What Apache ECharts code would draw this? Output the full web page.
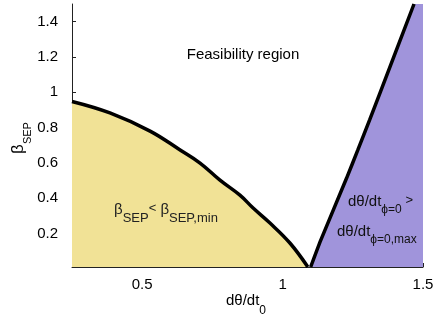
<!DOCTYPE html>
<html><head><meta charset="utf-8">
<script src="https://cdn.jsdelivr.net/npm/echarts@6/dist/echarts.min.js"></script>
<style>html,body{margin:0;padding:0;background:#fff}#c{width:435px;height:325px}</style>
</head><body><div id="c"></div>
<script>
// axis ranges and tick labels
const xRange = [0.25, 1.5];
const yRange = [0.01, 1.5];
const xTicks = [0.5, 1, 1.5];
const yTicks = [0.2, 0.4, 0.6, 0.8, 1, 1.2, 1.4];

// lower boundary (beta_SEP,min) curve
const curveX = [0.25, 0.385, 0.528, 0.635, 0.706, 0.777, 0.848, 0.895, 0.955, 1.026, 1.09];
const curveY = [0.948, 0.883, 0.780, 0.673, 0.599, 0.502, 0.417, 0.344, 0.259, 0.146, 0.01];

// right boundary (dtheta/dt max) line
const boundX = [1.1, 1.136, 1.228, 1.268, 1.31, 1.347, 1.468];
const boundY = [0.01, 0.162, 0.514, 0.673, 0.843, 0.996, 1.5];
const regionEdgeX = [1.5];
const regionEdgeY = [1.5];

const zip = (a, b) => a.map((v, i) => [v, b[i]]);
const FONT = 'Liberation Sans, Arial, sans-serif';

function subRich(fill, mainSize, subSize, pad) {
  return {
    m: {fontSize: mainSize, lineHeight: 18, verticalAlign: 'top', fontFamily: FONT, color: fill, fill: fill},
    u: {fontSize: 13, lineHeight: 14, verticalAlign: 'top', fontFamily: FONT, color: fill, fill: fill},
    s: {fontSize: subSize, lineHeight: 14, verticalAlign: 'top', padding: [pad, 0, 0, 0], fontFamily: FONT, color: fill, fill: fill}
  };
}

const chart = echarts.init(document.getElementById('c'), null, {renderer: 'canvas'});
const axisCommon = {
  axisLine: {show: true, onZero: false, lineStyle: {color: '#222', width: 1}},
  axisTick: {show: true, inside: true, length: 4, lineStyle: {color: '#222'}},
  axisLabel: {color: '#000', fontSize: 15, fontFamily: FONT},
  splitLine: {show: false}
};
chart.setOption({
  animation: false,
  grid: {left: 72, right: 12, top: 4, bottom: 58, containLabel: false, outerBoundsMode: 'none'},
  xAxis: Object.assign({}, axisCommon, {
    type: 'value', min: xRange[0], max: xRange[1],
    axisTick: Object.assign({}, axisCommon.axisTick, {customValues: xTicks}),
    axisLabel: Object.assign({}, axisCommon.axisLabel, {customValues: xTicks, margin: 10,
      formatter: v => String(+v.toFixed(2))})
  }),
  yAxis: Object.assign({}, axisCommon, {
    type: 'value', min: yRange[0], max: yRange[1],
    axisTick: Object.assign({}, axisCommon.axisTick, {customValues: yTicks}),
    axisLabel: Object.assign({}, axisCommon.axisLabel, {customValues: yTicks, margin: 14,
      formatter: v => String(+v.toFixed(2))})
  }),
  series: [
    {
      type: 'line', data: zip(curveX, curveY), symbol: 'none', z: 2, smooth: 0.4,
      lineStyle: {color: '#000', width: 3.5},
      areaStyle: {color: '#F1E296', opacity: 1, origin: 'start'}
    },
    {
      type: 'line', data: zip(boundX.concat(regionEdgeX), boundY.concat(regionEdgeY)), symbol: 'none', z: 1,
      lineStyle: {width: 0, opacity: 0},
      areaStyle: {color: '#A094DB', opacity: 1, origin: 'start'}
    },
    {
      type: 'line', data: zip(boundX, boundY), symbol: 'none', z: 3, smooth: 0.2,
      lineStyle: {color: '#000', width: 3.5}
    }
  ],
  graphic: [
    {type: 'text', z: 100, x: 243, y: 55, style: {text: 'Feasibility region', fontSize: 15, fontFamily: FONT,
      fill: '#000', align: 'center', verticalAlign: 'middle'}},
    {type: 'text', z: 100, x: 114, y: 202, style: {
      text: '{m|β}{s|SEP}{u|<}{m| β}{s|SEP,min}', fontFamily: FONT, fill: '#222', align: 'left', verticalAlign: 'top',
      rich: subRich('#222', 15, 13, 10)}},
    {type: 'text', z: 100, x: 348, y: 194, style: {
      text: '{m|dθ/dt}{s|ϕ=0}{u| >}', fontFamily: FONT, fill: '#111', align: 'left', verticalAlign: 'top',
      rich: subRich('#111', 15, 12, 10)}},
    {type: 'text', z: 100, x: 337, y: 224, style: {
      text: '{m|dθ/dt}{s|ϕ=0,max}', fontFamily: FONT, fill: '#111', align: 'left', verticalAlign: 'top',
      rich: subRich('#111', 15, 12, 10)}},
    {type: 'text', z: 100, x: 226, y: 293, style: {
      text: '{m|dθ/dt}{s|0}', fontFamily: FONT, fill: '#000', align: 'left', verticalAlign: 'top',
      rich: subRich('#000', 15, 12, 12)}},
    {type: 'group', x: 10, y: 138, rotation: Math.PI / 2, children: [
      {type: 'text', x: 0, y: 0, style: {
        text: '{m|β}{s|SEP}', fontFamily: FONT, fill: '#000', align: 'center', verticalAlign: 'top',
        rich: subRich('#000', 17, 11, 12)}}
    ]}
  ]
});
</script></body></html>
